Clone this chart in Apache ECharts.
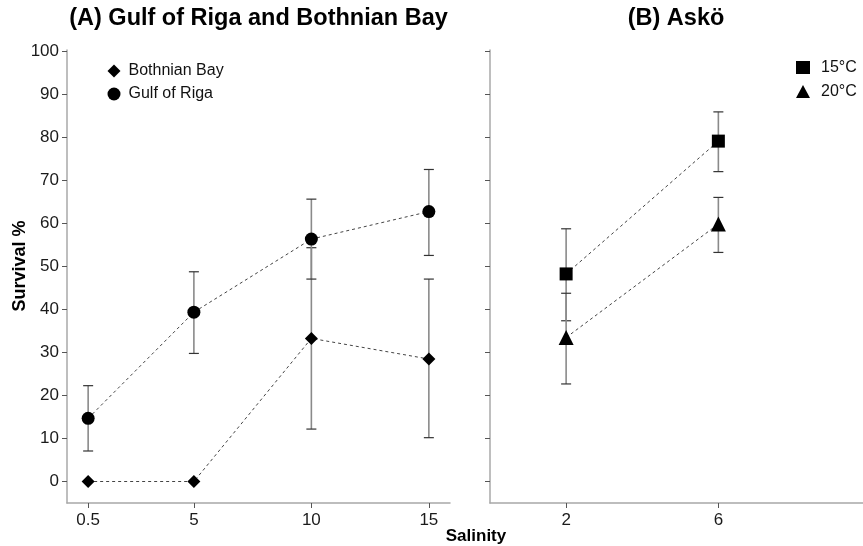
<!DOCTYPE html>
<html>
<head>
<meta charset="utf-8">
<script src="https://cdn.jsdelivr.net/npm/echarts@6/dist/echarts.min.js"></script>
<style>
  html, body { margin: 0; padding: 0; background: #fff; }
  #chart { width: 863px; height: 546px; }
</style>
</head>
<body>
<div id="chart"></div>
<script>
// Panel A: survival by salinity, two populations
const salinityA = [0.5, 5, 10, 15];
const bothnianMean = [0, 0, 33.3, 28.5];
const bothnianLow = [null, null, 12.2, 10.2];
const bothnianHigh = [null, null, 54.4, 47.1];
const rigaMean = [14.7, 39.4, 56.4, 62.8];
const rigaLow = [7.1, 29.8, 47.1, 52.6];
const rigaHigh = [22.3, 48.8, 65.7, 72.6];

// Panel B: survival by salinity at two temperatures
const salinityB = [2, 6];
const t15Mean = [48.3, 79.2];
const t15Low = [37.4, 72.1];
const t15High = [58.8, 86.0];
const t20Mean = [33.5, 59.9];
const t20Low = [22.7, 53.3];
const t20High = [43.8, 66.1];

const yTicks = [0, 10, 20, 30, 40, 50, 60, 70, 80, 90, 100];
const xTicksA = [0.5, 5, 10, 15];
const xTicksB = [2, 6];

const FONT = "'Liberation Sans', Arial, sans-serif";
const AXIS_GRAY = '#a8a8a8';
const TICK_GRAY = '#555';

function pairs(xs, ys) { return xs.map((x, i) => [x, ys[i]]); }
function bars(xs, lo, hi) {
  const out = [];
  xs.forEach((x, i) => { if (lo[i] != null && hi[i] != null) out.push([x, lo[i], hi[i]]); });
  return out;
}

// vertical whisker with a short cap at each end
function renderErrorBar(params, api) {
  const x = api.value(0);
  const pLo = api.coord([x, api.value(1)]);
  const pHi = api.coord([x, api.value(2)]);
  const w = 5;
  return {
    type: 'group',
    children: [
      { type: 'line', shape: { x1: pLo[0], y1: pLo[1], x2: pHi[0], y2: pHi[1] },
        style: { stroke: '#8a8a8a', lineWidth: 1.6 } },
      { type: 'line', shape: { x1: pHi[0] - w, y1: pHi[1], x2: pHi[0] + w, y2: pHi[1] },
        style: { stroke: '#333', lineWidth: 1.2 } },
      { type: 'line', shape: { x1: pLo[0] - w, y1: pLo[1], x2: pLo[0] + w, y2: pLo[1] },
        style: { stroke: '#333', lineWidth: 1.2 } }
    ]
  };
}

function errSeries(name, data, axis) {
  return {
    name: name, type: 'custom', xAxisIndex: axis, yAxisIndex: axis,
    renderItem: renderErrorBar, data: data, encode: { x: 0, y: [1, 2] },
    z: 1, silent: true
  };
}

function lineSeries(name, data, axis, symbol, size) {
  return {
    name: name, type: 'line', xAxisIndex: axis, yAxisIndex: axis,
    data: data, symbol: symbol, symbolSize: size, z: 3,
    itemStyle: { color: '#000' },
    lineStyle: { color: '#444', width: 1, type: [3, 3] },
    emphasis: { disabled: true }
  };
}

function xAxis(grid, min, max, ticks) {
  return {
    type: 'value', gridIndex: grid, min: min, max: max,
    splitLine: { show: false },
    axisLine: { show: true, onZero: false, lineStyle: { color: AXIS_GRAY, width: 1.5 } },
    axisTick: { show: true, length: 5, customValues: ticks, lineStyle: { color: TICK_GRAY } },
    axisLabel: { customValues: ticks, color: '#1a1a1a', fontSize: 17, fontFamily: FONT, margin: 9 }
  };
}

function yAxis(grid, showLabels) {
  return {
    type: 'value', gridIndex: grid, min: -5, max: 100.4,
    splitLine: { show: false },
    axisLine: { show: true, onZero: false, lineStyle: { color: AXIS_GRAY, width: 1.5 } },
    axisTick: { show: true, length: 5, customValues: yTicks, lineStyle: { color: TICK_GRAY } },
    axisLabel: { show: showLabels, customValues: yTicks, color: '#1a1a1a', fontSize: 17, fontFamily: FONT, margin: 8 }
  };
}

const chart = echarts.init(document.getElementById('chart'), null, { renderer: 'canvas' });
chart.setOption({
  animation: false,
  backgroundColor: '#fff',
  textStyle: { fontFamily: FONT },
  title: [
    { text: '(A) Gulf of Riga and Bothnian Bay', left: 258.5, top: 7, padding: 0, textAlign: 'center',
      textStyle: { fontSize: 23.5, fontWeight: 'bold', color: '#000', fontFamily: FONT } },
    { text: '(B) Askö', left: 676, top: 7, padding: 0, textAlign: 'center',
      textStyle: { fontSize: 23.5, fontWeight: 'bold', color: '#000', fontFamily: FONT } }
  ],
  graphic: [
    { type: 'text', x: 20, y: 266, rotation: Math.PI / 2,
      style: { text: 'Survival %', font: 'bold 18px ' + FONT, fill: '#000', align: 'center', verticalAlign: 'middle' } },
    { type: 'text', x: 476, y: 536,
      style: { text: 'Salinity', font: 'bold 17px ' + FONT, fill: '#000', align: 'center', verticalAlign: 'middle' } }
  ],
  legend: [
    { data: [{ name: 'Bothnian Bay', icon: 'diamond' }, { name: 'Gulf of Riga', icon: 'circle' }],
      orient: 'vertical', left: 107.5, top: 63, padding: 0,
      itemWidth: 13, itemHeight: 13, itemGap: 7,
      itemStyle: { color: '#000' },
      textStyle: { fontSize: 16, color: '#111', fontFamily: FONT, padding: [0, 0, 0, 3] },
      selectedMode: false },
    { data: [{ name: '15°C', icon: 'rect' }, { name: '20°C', icon: 'triangle' }],
      orient: 'vertical', left: 796, top: 59.5, padding: 0,
      itemWidth: 14, itemHeight: 13, itemGap: 8,
      itemStyle: { color: '#000' },
      textStyle: { fontSize: 16, color: '#111', fontFamily: FONT, padding: [0, 0, 0, 6] },
      selectedMode: false }
  ],
  grid: [
    { left: 67, width: 383, top: 50, bottom: 43 },
    { left: 490, right: 0, top: 50, bottom: 43 }
  ],
  xAxis: [xAxis(0, -0.4, 15.9, xTicksA), xAxis(1, 0, 9.8, xTicksB)],
  yAxis: [yAxis(0, true), yAxis(1, false)],
  series: [
    errSeries('Bothnian Bay err', bars(salinityA, bothnianLow, bothnianHigh), 0),
    errSeries('Gulf of Riga err', bars(salinityA, rigaLow, rigaHigh), 0),
    errSeries('15°C err', bars(salinityB, t15Low, t15High), 1),
    errSeries('20°C err', bars(salinityB, t20Low, t20High), 1),
    lineSeries('Bothnian Bay', pairs(salinityA, bothnianMean), 0, 'diamond', 13),
    lineSeries('Gulf of Riga', pairs(salinityA, rigaMean), 0, 'circle', 13),
    lineSeries('15°C', pairs(salinityB, t15Mean), 1, 'rect', 13),
    lineSeries('20°C', pairs(salinityB, t20Mean), 1, 'triangle', 15)
  ]
});
</script>
</body>
</html>
